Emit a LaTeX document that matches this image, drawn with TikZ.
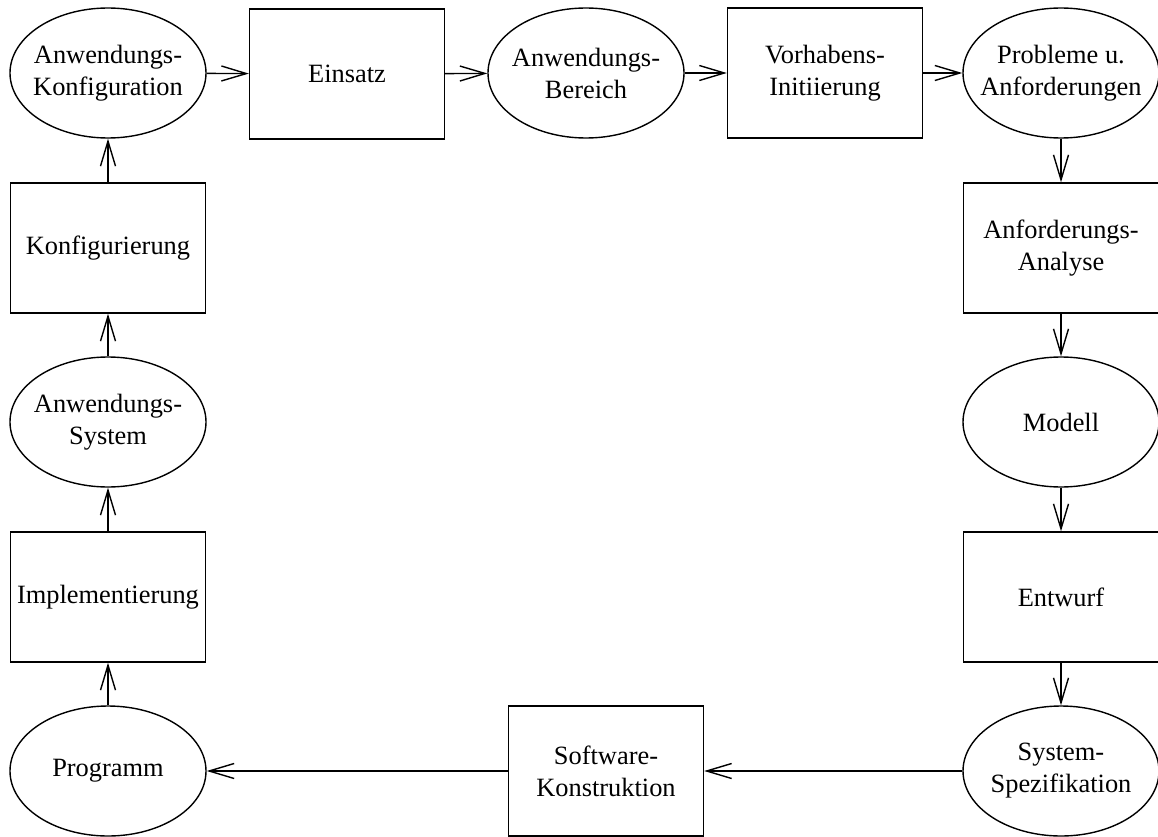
\documentclass[tikz,border=0pt]{standalone}
\usepackage{fontspec}
\setmainfont{Liberation Serif}
\usetikzlibrary{shapes.geometric,arrows.meta}
\begin{document}
\begin{tikzpicture}[x=1pt,y=-1pt,
  every node/.style={font=\fontsize{26.4}{32}\selectfont, align=center, inner sep=0pt, line width=1.4pt},
  stepbox/.style={draw, rectangle, minimum width=195pt, minimum height=130pt},
  result/.style={draw, ellipse, inner xsep=-45pt, inner ysep=0pt, minimum width=196pt, minimum height=130pt},
  flow/.style={draw, line width=1.4pt, -{Straight Barb[length=25pt,width=15pt,line width=1.4pt]}}
]
\useasboundingbox (0,0) rectangle (1158,837);

% top row
\node[result]  (ak) at (108,73)  {Anwendungs-\\Konfiguration};
\node[stepbox] (ei) at (347,74)  {Einsatz};
\node[result]  (ab) at (586,73)  {Anwendungs-\\Bereich};
\node[stepbox] (vi) at (825,73)  {Vorhabens-\\Initiierung};
\node[result]  (pa) at (1061,73) {Probleme u.\\Anforderungen};

% right column
\node[stepbox] (an) at (1061,248) {Anforderungs-\\Analyse};
\node[result]  (mo) at (1061,422) {Modell};
\node[stepbox] (en) at (1061,597) {Entwurf};
\node[result]  (sy) at (1061,771) {System-\\Spezifikation};

% bottom row
\node[stepbox] (sk) at (606,771) {Software-\\Konstruktion};
\node[result]  (pr) at (108,771) {Programm};

% left column
\node[stepbox] (im) at (108,597) {Implementierung};
\node[result]  (as) at (108,422) {Anwendungs-\\System};
\node[stepbox] (ko) at (108,248) {Konfigurierung};

% connectors
\draw[flow] (ak) -- (ei);
\draw[flow] (ei) -- (ab);
\draw[flow] (ab) -- (vi);
\draw[flow] (vi) -- (pa);
\draw[flow] (pa) -- (an);
\draw[flow] (an) -- (mo);
\draw[flow] (mo) -- (en);
\draw[flow] (en) -- (sy);
\draw[flow] (sy) -- (sk);
\draw[flow] (sk) -- (pr);
\draw[flow] (pr) -- (im);
\draw[flow] (im) -- (as);
\draw[flow] (as) -- (ko);
\draw[flow] (ko) -- (ak);
\end{tikzpicture}
\end{document}
